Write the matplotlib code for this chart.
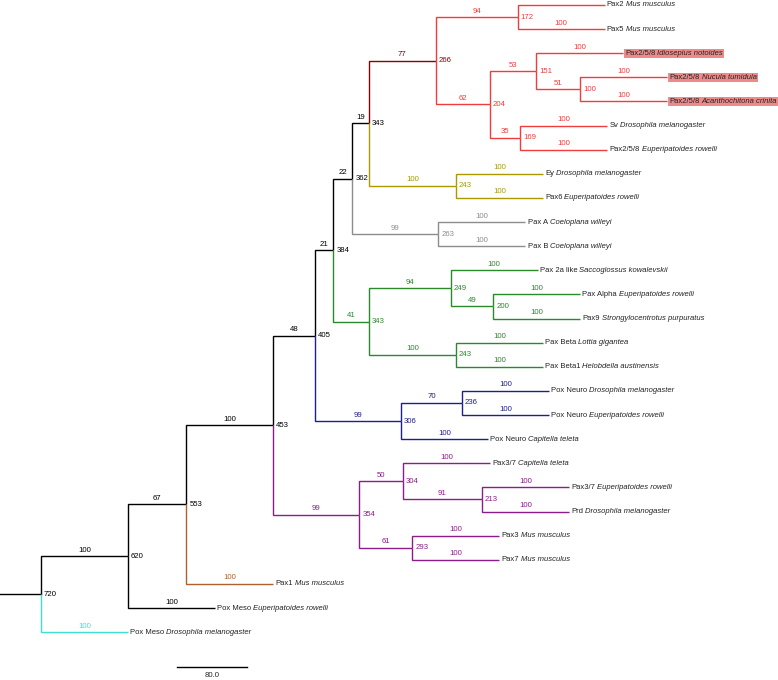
import matplotlib
matplotlib.use("Agg")
import matplotlib.pyplot as plt

plt.rcParams['font.family'] = ['Liberation Sans', 'DejaVu Sans']

# Tree (tips are numbered top to bottom, branch length = branch label, node label = height)
newick = ("((((((((((0:100,1:100)172:94,((2:100,(3:100,4:100)100:51)151:53,"
          "(5:100,6:100)169:35)204:62)266:77,(7:100,8:100)243:100)343:19,"
          "(9:100,10:100)263:99)362:22,((11:100,(12:100,13:100)200:49)249:94,"
          "(14:100,15:100)243:100)343:41)384:21,((16:100,17:100)236:70,18:100)306:99)405:48,"
          "((19:100,(20:100,21:100)213:91)304:50,(22:100,23:100)293:61)354:99)453:100,"
          "24:100)553:67,25:100)620:100,26:100)720;")
root_stem = 47

genes = ['Pax2', 'Pax5', 'Pax2/5/8', 'Pax2/5/8', 'Pax2/5/8', 'Sv', 'Pax2/5/8',
         'Ey', 'Pax6', 'Pax A', 'Pax B', 'Pax 2a like', 'Pax Alpha', 'Pax9',
         'Pax Beta', 'Pax Beta1', 'Pox Neuro', 'Pox Neuro', 'Pox Neuro',
         'Pax3/7', 'Pax3/7', 'Prd', 'Pax3', 'Pax7', 'Pax1', 'Pox Meso', 'Pox Meso']
species = ['Mus musculus', 'Mus musculus', 'Idiosepius notoides', 'Nucula tumidula',
           'Acanthochitona crinita', 'Drosophila melanogaster', 'Euperipatoides rowelli',
           'Drosophila melanogaster', 'Euperipatoides rowelli', 'Coeloplana willeyi',
           'Coeloplana willeyi', 'Saccoglossus kowalevskii', 'Euperipatoides rowelli',
           'Strongylocentrotus purpuratus', 'Lottia gigantea', 'Helobdella austinensis',
           'Drosophila melanogaster', 'Euperipatoides rowelli', 'Capitella teleta',
           'Capitella teleta', 'Euperipatoides rowelli', 'Drosophila melanogaster',
           'Mus musculus', 'Mus musculus', 'Mus musculus', 'Euperipatoides rowelli',
           'Drosophila melanogaster']
highlighted = [2, 3, 4]
scale_length = 80.0

# clade colours, keyed by (first tip, last tip); descendants inherit
red = '#f03c3c'
clade_colors = {
    (0, 6): '#8b0000',
    (0, 1): red, (2, 6): red,
    (7, 8): '#a89a00',
    (9, 10): '#8c8c8c',
    (11, 15): '#2a8a2a',
    (16, 18): '#1f1f8c',
    (19, 23): '#8b1c89',
    (24, 24): '#b0602a',
    (26, 26): '#40e0d0',
}


def parse(s, i=0):
    node = {'children': [], 'length': 0.0}
    if s[i] == '(':
        i += 1
        while True:
            child, i = parse(s, i)
            node['children'].append(child)
            if s[i] == ',':
                i += 1
            else:
                break
        i += 1
    j = i
    while s[i] not in ',):;':
        i += 1
    node['name'] = s[j:i]
    if s[i] == ':':
        i += 1
        j = i
        while s[i] not in ',);':
            i += 1
        node['length'] = float(s[j:i])
    return node, i


def layout(node, x0):
    node['x'] = x0 + node['length']
    if node['children']:
        for c in node['children']:
            layout(c, node['x'])
        node['lo'] = node['children'][0]['lo']
        node['hi'] = node['children'][-1]['hi']
        node['y'] = (node['children'][0]['y'] + node['children'][-1]['y']) / 2
    else:
        k = int(node['name'])
        node['lo'] = node['hi'] = k
        node['y'] = k
    return node


def set_colors(node, color):
    node['color'] = clade_colors.get((node['lo'], node['hi']), color)
    for c in node['children']:
        set_colors(c, node['color'])


tree, _ = parse(newick)
layout(tree, root_stem)
set_colors(tree, 'black')

fig = plt.figure(figsize=(7.78, 6.8), dpi=100)
ax = fig.add_axes([0, 0, 1, 1])
ax.axis('off')
ax.set_xlim(0, 778 / 0.87)
ax.set_ylim((680 - 5) / 24.12, -5 / 24.12)

num_size = 5.6
tip_size = 5.5
lw = 1.0

# root stem
ax.plot([0, tree['x']], [tree['y'], tree['y']], color='black', lw=lw)


def draw(node, parent=None):
    col = node['color']
    if parent is not None:
        ax.plot([parent['x'], parent['x'], node['x']], [parent['y'], node['y'], node['y']],
                color=col, lw=lw, solid_joinstyle='miter', solid_capstyle='butt')
        ax.annotate('%d' % node['length'], ((parent['x'] + node['x']) / 2, node['y']),
                    xytext=(0, 1.8), textcoords='offset points', ha='center', va='bottom',
                    fontsize=num_size, color=col)
    if node['children']:
        ax.annotate(node['name'], (node['x'], node['y']), xytext=(2.2, 0),
                    textcoords='offset points', ha='left', va='center',
                    fontsize=num_size, color=col)
        for c in node['children']:
            draw(c, node)
    else:
        k = int(node['name'])
        box = None
        if k in highlighted:
            box = dict(boxstyle='square,pad=0.16', fc='#f08a8a', ec='none')
        t1 = ax.annotate(genes[k], (node['x'], node['y']), xytext=(1.5, 0),
                         textcoords='offset points', ha='left', va='center',
                         fontsize=tip_size, color='#222222', bbox=box)
        ax.annotate(species[k], xy=(1, 0), xycoords=t1, xytext=(1.4, 0),
                    textcoords='offset points', ha='left', va='bottom',
                    fontsize=tip_size, style='italic', color='#222222', bbox=box)


draw(tree)

# scale bar
sx = 177 / 0.87
sy = (667 - 5) / 24.12
ax.plot([sx, sx + scale_length], [sy, sy], color='black', lw=lw)
ax.text(sx + scale_length / 2, sy + 0.22, '%.1f' % scale_length, ha='center', va='top',
        fontsize=num_size, color='#222222')

plt.savefig('out.png', dpi=100)
